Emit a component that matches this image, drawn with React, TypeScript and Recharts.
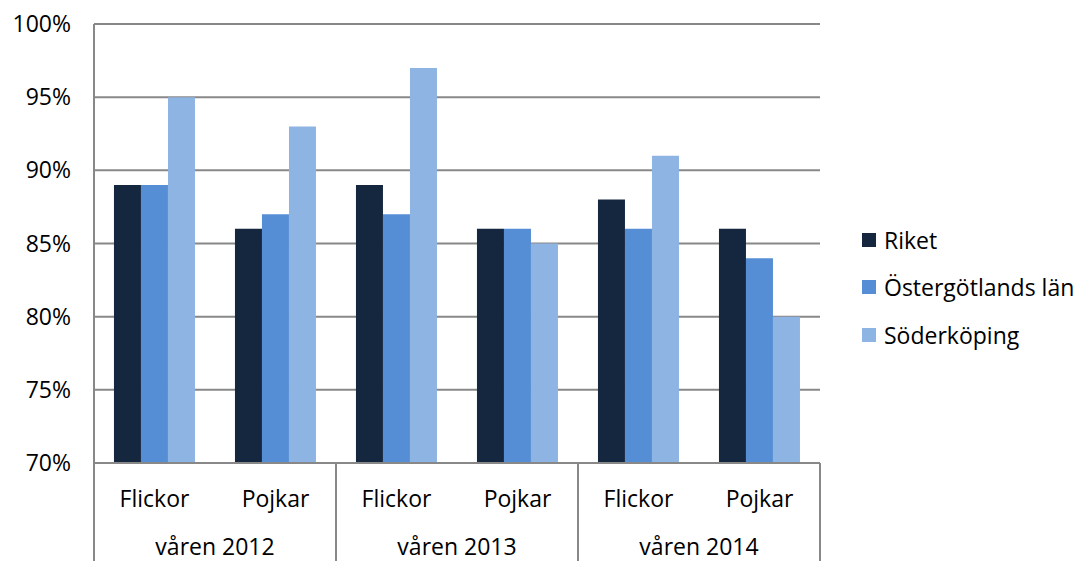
import React from 'react'
import { BarChart, Bar, XAxis, YAxis, CartesianGrid } from 'recharts'

const groups = ['Flickor', 'Pojkar', 'Flickor', 'Pojkar', 'Flickor', 'Pojkar']
const years = ['våren 2012', 'våren 2012', 'våren 2013', 'våren 2013', 'våren 2014', 'våren 2014']
const riket = [89, 86, 89, 86, 88, 86]
const ostergotland = [89, 87, 87, 86, 86, 84]
const soderkoping = [95, 93, 97, 85, 91, 80]
const yTicks = [70, 75, 80, 85, 90, 95, 100]
const seriesNames = ['Riket', 'Östergötlands län', 'Söderköping']

const data = groups.map((g, i) => ({
  sub: g,
  year: years[i],
  riket: riket[i],
  ost: ostergotland[i],
  sod: soderkoping[i]
}))

const W = 1077
const H = 561
const LEFT = 94
const RIGHT = 257
const TOP = 24
const BOTTOM = 98
const BAND = (W - LEFT - RIGHT) / groups.length
const FONT = '"Open Sans", sans-serif'
const FS = 23
const AXIS = '#888888'

const COLORS = ['#14273F', '#558ED5', '#8EB4E3']

const XTick = (props: any) => {
  const { x, y, payload, index } = props
  const i = index ?? payload.index
  return (
    <g>
      <text x={x} y={y + 35} textAnchor="middle" dominantBaseline="central" fontSize={FS} fontFamily={FONT} fill="#000">
        {payload.value}
      </text>
      {i % 2 === 0 && (
        <>
          <text x={x + BAND / 2} y={y + 83} textAnchor="middle" dominantBaseline="central" fontSize={FS} fontFamily={FONT} fill="#000">
            {data[i].year}
          </text>
          <line x1={x - BAND / 2} x2={x - BAND / 2} y1={y} y2={H} stroke={AXIS} strokeWidth={2} />
        </>
      )}
      {i === groups.length - 1 && (
        <line x1={x + BAND / 2} x2={x + BAND / 2} y1={y} y2={H} stroke={AXIS} strokeWidth={2} />
      )}
    </g>
  )
}

export default function App() {
  return (
    <div style={{ position: 'absolute', left: 0, top: 0, width: W, height: H, background: '#fff', overflow: 'hidden' }}>
      <BarChart
        width={W}
        height={H}
        data={data}
        margin={{ top: TOP, right: RIGHT, left: 0, bottom: 0 }}
        barCategoryGap="16.5%"
        barGap={0}
      >
        <CartesianGrid vertical={false} stroke={AXIS} strokeWidth={2} />
        <XAxis
          dataKey="sub"
          interval={0}
          height={BOTTOM}
          tickLine={false}
          tickSize={0}
          tickMargin={0}
          axisLine={{ stroke: AXIS, strokeWidth: 2 }}
          tick={<XTick />}
        />
        <YAxis
          width={LEFT}
          domain={[70, 100]}
          ticks={yTicks}
          tickFormatter={(v: number) => `${v}%`}
          tickLine={false}
          tickSize={0}
          tickMargin={23}
          axisLine={{ stroke: AXIS, strokeWidth: 2 }}
          tick={{ fontSize: FS, fontFamily: FONT, fill: '#000' }}
          allowDataOverflow
        />
        <Bar dataKey="riket" name={seriesNames[0]} fill={COLORS[0]} isAnimationActive={false} />
        <Bar dataKey="ost" name={seriesNames[1]} fill={COLORS[1]} isAnimationActive={false} />
        <Bar dataKey="sod" name={seriesNames[2]} fill={COLORS[2]} isAnimationActive={false} />
      </BarChart>
      {/* legend, placed like the original on the right */}
      <div style={{ position: 'absolute', left: 862, top: 216, fontFamily: FONT, fontSize: FS, color: '#000' }}>
        {seriesNames.map((name, i) => (
          <div key={name} style={{ display: 'flex', alignItems: 'center', height: 47.5, whiteSpace: 'nowrap' }}>
            <span style={{ display: 'inline-block', width: 14, height: 14, background: COLORS[i], marginRight: 8 }} />
            <span>{name}</span>
          </div>
        ))}
      </div>
    </div>
  )
}
